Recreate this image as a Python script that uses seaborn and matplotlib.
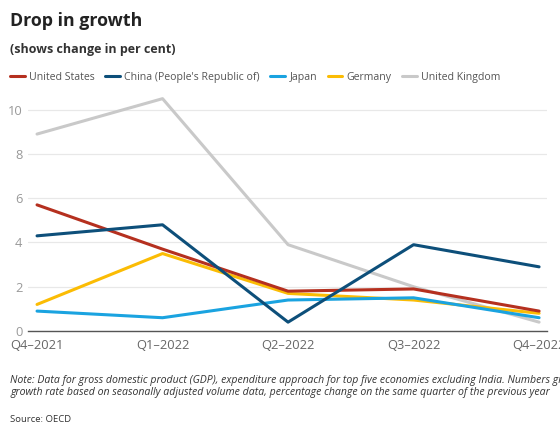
import matplotlib
matplotlib.use("Agg")
import matplotlib.pyplot as plt
import seaborn as sns
import pandas as pd
from matplotlib.lines import Line2D

quarters = ["Q4–2021", "Q1–2022", "Q2–2022", "Q3–2022", "Q4–2022"]
us = [5.7, 3.7, 1.8, 1.9, 0.9]
china = [4.3, 4.8, 0.4, 3.9, 2.9]
japan = [0.9, 0.6, 1.4, 1.5, 0.6]
germany = [1.2, 3.5, 1.7, 1.4, 0.8]
uk = [8.9, 10.5, 3.9, 2.0, 0.4]
series_names = ["United States", "China (People's Republic of)", "Japan", "Germany", "United Kingdom"]
colors = ["#b5301f", "#0d4f7a", "#1aa3e0", "#fbbc04", "#c9c9c9"]
yticks = [0, 2, 4, 6, 8, 10]

rows = []
for name, vals in zip(series_names, [us, china, japan, germany, uk]):
    for i, (q, v) in enumerate(zip(quarters, vals)):
        rows.append({"idx": i, "quarter": q, "value": v, "country": name})
df = pd.DataFrame(rows)

sns.set_theme(style="white")
plt.rcParams["font.family"] = ["Open Sans", "DejaVu Sans"]

fig = plt.figure(figsize=(5.6, 4.26), dpi=100)
ax = fig.add_axes([0.05, 0.223, 0.927, 0.561])

draw_order = ["United Kingdom", "Germany", "Japan", "United States", "China (People's Republic of)"]
pal = dict(zip(series_names, colors))
for name in draw_order:
    sub = df[df["country"] == name]
    sns.lineplot(data=sub, x="idx", y="value", color=pal[name], linewidth=2.2, ax=ax, legend=False)

ax.set_xlim(-0.072, 4.064)
ax.set_ylim(0, 10.8)
ax.set_xticks(range(len(quarters)))
ax.set_xticklabels(quarters)
ax.set_yticks(yticks)
ax.set_xlabel("")
ax.set_ylabel("")
ax.grid(axis="y", color="#e8e8e8", linewidth=0.9)
ax.set_axisbelow(True)
for s in ["top", "right", "left"]:
    ax.spines[s].set_visible(False)
ax.spines["bottom"].set_color("#555555")
ax.spines["bottom"].set_linewidth(1.0)
ax.tick_params(axis="x", length=0, pad=5.5, labelsize=9.3, labelcolor="#666666")
ax.tick_params(axis="y", length=0, pad=4, labelsize=9.3, labelcolor="#999999")

fig.text(0.018, 0.951, "Drop in growth", fontsize=12.8, fontweight="bold", color="#222222", va="center")
fig.text(0.018, 0.883, "(shows change in per cent)", fontsize=9, fontweight="bold", color="#333333", va="center")

handles = [Line2D([0], [0], color=c, linewidth=2.2) for c in colors]
fig.legend(handles, series_names, loc="center left", bbox_to_anchor=(0.018, 0.819), ncol=5,
           frameon=False, fontsize=7.6, handlelength=1.4, handletextpad=0.4, columnspacing=1.0,
           labelcolor="#555555", borderpad=0, borderaxespad=0)

fig.text(0.018, 0.093, "Note: Data for gross domestic product (GDP), expenditure approach for top five economies excluding India. Numbers give\ngrowth rate based on seasonally adjusted volume data, percentage change on the same quarter of the previous year",
         fontsize=7.6, style="italic", color="#333333", va="center", linespacing=1.2)
fig.text(0.018, 0.016, "Source: OECD", fontsize=6.8, color="#333333", va="center")

fig.savefig("out.png", dpi=100)
